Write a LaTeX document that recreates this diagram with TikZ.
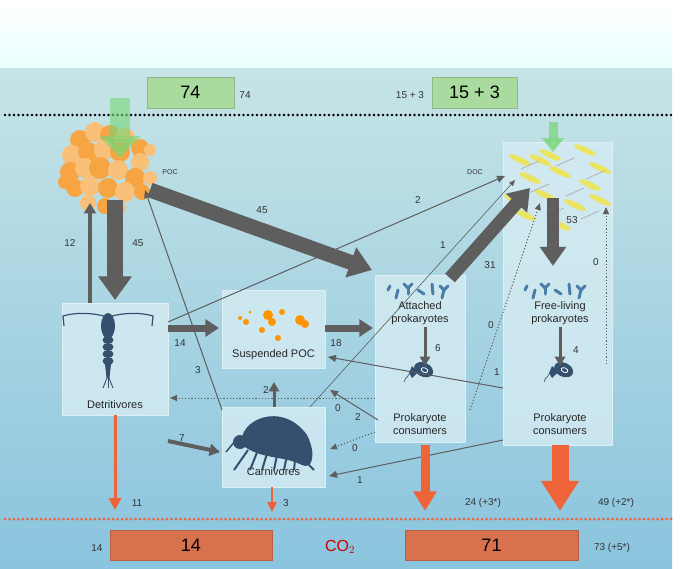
\documentclass[tikz,border=0pt]{standalone}
\usepackage{fontspec}
\setmainfont{Liberation Sans}
\usetikzlibrary{arrows.meta,shapes.geometric}
\definecolor{ag}{HTML}{5E5E5E}
\definecolor{ao}{HTML}{EE6338}
\definecolor{pan}{HTML}{D6ECF3}
\definecolor{gb}{HTML}{A9DA9E}
\definecolor{ob}{HTML}{D7714E}
\definecolor{bac}{HTML}{4A7EA8}
\definecolor{ani}{HTML}{34506E}
\definecolor{pocc}{HTML}{F7A443}
\definecolor{pocl}{HTML}{F9C07A}
\tikzset{
 panel/.style={fill=pan,draw=pan!80!white,line width=0.6pt,fill opacity=0.8},
 lbl/.style={font=\fontsize{10}{11}\selectfont,text=black!80},
 txt/.style={font=\fontsize{11}{13}\selectfont,text=black!85,align=center},
 ga/.style={draw=ag,line width=#1,-{Triangle[length=1.1*#1+6pt,width=1.7*#1+5pt]}},
 thin/.style={draw=ag,line width=1pt,-{Triangle[length=8pt,width=7pt]}},
 dot/.style={draw=ag,line width=1pt,dash pattern=on 1.2pt off 2pt,-{Triangle[length=7pt,width=6pt]}},
 oa/.style={draw=ao,line width=#1,-{Triangle[length=1.3*#1+8pt,width=1.7*#1+7pt]}},
}
\begin{document}
\begin{tikzpicture}[x=1pt,y=-1pt]
\useasboundingbox (0,0) rectangle (685,568);
% background
\fill[white] (0,0) rectangle (685,568);
\shade[top color=white,bottom color=cyan!8!white] (0,0) rectangle (672,68);
\shade[top color={rgb,255:red,198;green,228;blue,230},bottom color={rgb,255:red,138;green,196;blue,222}] (0,68) rectangle (672,568);
\foreach \i in {0,...,148} \fill[black] (5+4.5*\i,115) circle (1.4);
\foreach \i in {0,...,148} \fill[ao] (5+4.5*\i,519) circle (1.5);
% panels
\node[panel,minimum width=109pt,minimum height=303pt] (fl) at (557.5,293.5) {};
\node[panel,minimum width=90pt,minimum height=167pt] (at) at (420,358.5) {};
\node[panel,minimum width=106pt,minimum height=112pt] (det) at (115,359) {};
\node[panel,minimum width=103pt,minimum height=78pt] (sp) at (273.5,329) {};
\node[panel,minimum width=103pt,minimum height=80pt] (car) at (273.5,447) {};
% POC blob
\foreach \x/\y/\r [count=\k] in {80/140/10,95/132/10,110/135/10,125/138/10,140/148/9,72/155/10,88/152/10,104/150/10,120/152/10,140/162/9,70/172/10,85/168/10,100/168/11,118/170/10,135/178/10,150/178/7,75/188/9,90/186/10,108/188/10,125/192/10,142/192/8,88/203/8,105/206/8,120/208/6,65/182/7,150/150/6}
 {\pgfmathparse{mod(\k,2)==0?1:0}\ifnum\pgfmathresult=1 \fill[pocl] (\x,\y) circle (\r);\else\fill[pocc] (\x,\y) circle (\r);\fi}
\node[lbl,font=\fontsize{7}{8}\selectfont] (poclbl) at (170,172) {POC};
\node[lbl,font=\fontsize{7}{8}\selectfont] (doclbl) at (475,172) {DOC};
% DOC streaks
\begin{scope}[fill=yellow!85!orange,fill opacity=0.6]
\foreach \x/\y in {520/160,550/155,585/150,600/168,530/178,560/172,590/185,515/200,545/195,575/205,525/215,560/225,600/200,540/160}
 \fill[rotate around={-25:(\x,\y)}] (\x,\y) ellipse (12 and 3);
\end{scope}
\begin{scope}[draw=gray!60,line width=0.8pt]
\foreach \x/\y in {530/165,565/162,595/175,540/188,575/192,520/208,555/212,590/215}
 \draw (\x-9,\y+4) -- (\x+9,\y-4);
\end{scope}
% green boxes
\node[fill=gb,draw=gb!80!black!90,minimum width=87pt,minimum height=31pt,font=\fontsize{18}{20}\selectfont] (in1) at (190.5,92.5) {74};
\node[lbl] (in1l) at (245,95) {74};
\node[fill=gb,draw=gb!80!black!90,minimum width=85pt,minimum height=31pt,font=\fontsize{18}{20}\selectfont] (in2) at (474.5,92.5) {15 + 3};
\node[lbl] (in2l) at (410,95) {15 + 3};
\coordinate (g1a) at (120,98); \coordinate (g1b) at (120,158);
\coordinate (g2a) at (553,122); \coordinate (g2b) at (553,152);
\draw[green!55!gray!70,line width=20pt,opacity=0.6,-{Triangle[length=22pt,width=40pt]}] (g1a) -- (g1b);
\draw[green!55!gray!70,line width=9pt,opacity=0.7,-{Triangle[length=14pt,width=22pt]}] (g2a) -- (g2b);
% orange boxes
\node[fill=ob,draw=ob!85!black,minimum width=162pt,minimum height=30pt,font=\fontsize{18}{20}\selectfont] (o1) at (191,545) {14};
\node[fill=ob,draw=ob!85!black,minimum width=173pt,minimum height=30pt,font=\fontsize{18}{20}\selectfont] (o2) at (491.5,545) {71};
\node[lbl] (o1l) at (97,548) {14};
\node[lbl] (o2l) at (612,548) {73 (+5*)};
\node[text=red!80!black,font=\fontsize{16}{17}\selectfont] (co2) at (340,547) {CO$_2$};
% texts
\node[txt] (dett) at (115,405) {Detritivores};
\node[txt] (spt) at (273.5,355) {Suspended POC};
\node[txt] (cart) at (273.5,472) {Carnivores};
\node[txt] (att) at (420,313) {Attached\\prokaryotes};
\node[txt] (atc) at (420,424) {Prokaryote\\consumers};
\node[txt] (flt) at (560,313) {Free-living\\prokaryotes};
\node[txt] (flc) at (560,424) {Prokaryote\\consumers};
% suspended POC flecks
\begin{scope}[fill=orange!85!yellow]
\foreach \x/\y/\r in {240/318/2,246/322/3,268/315/5,272/322/4,282/312/3,262/330/3,300/320/5,305/324/4,278/338/3,250/312/1.5}
 \fill (\x,\y) circle (\r);
\end{scope}
% bacteria icons
\foreach \cx in {420,557}{
 \begin{scope}[shift={(\cx,292)},bac,line width=3pt,line cap=round]
  \draw (-32,-2)--(-30,-6); \draw (-24,6)--(-22,-2); \draw (-16,-8)--(-12,-4)--(-8,-8); \draw (-12,-4)--(-12,2);
  \draw (-2,-2)--(4,2); \draw (12,-8)--(13,2); \draw (20,-6)--(24,-2)--(28,-6); \draw (24,-2)--(22,6);
 \end{scope}}
% consumer icons
\foreach \cx in {420,560}{
 \begin{scope}[shift={(\cx,368)}]
  \fill[ani,rotate=-25] (4,0) ellipse (10 and 7);
  \draw[white,line width=0.8pt,rotate=-25] (5,0) ellipse (3.5 and 2.2);
  \fill[ani] (-8,-2) -- (-2,4) -- (-8,10) -- (-11,5) -- cycle;
  \draw[ani,line width=0.6pt] (-11,6) .. controls (-14,12) and (-16,10) .. (-16,14);
 \end{scope}}
% copepod
\begin{scope}[shift={(108,322)},ani]
 \fill (0,4) ellipse (7 and 13);
 \foreach \yy in {18,25,32,39} \fill (0,\yy) ellipse (5.5 and 4);
 \fill (-3,42) -- (3,42) -- (1.5,56) -- (-1.5,56) -- cycle;
 \draw[line width=1.2pt] (-4,-6) .. controls (-20,-10) and (-35,-9) .. (-45,-6) -- (-44,4);
 \draw[line width=1.2pt] (4,-6) .. controls (20,-10) and (35,-9) .. (45,-6) -- (44,4);
 \draw[line width=0.9pt] (-1,56) -- (-5,66); \draw[line width=0.9pt] (1,56) -- (5,66); \draw[line width=0.9pt] (0,56) -- (0,66);
\end{scope}
% amphipod
\begin{scope}[shift={(272,440)},ani]
 \fill (-30,5) .. controls (-35,-20) and (10,-40) .. (35,-5) .. controls (45,15) and (40,30) .. (30,25) .. controls (10,15) and (-10,20) .. (-30,5) -- cycle;
 \fill (-32,2) circle (7);
 \foreach \a/\b in {-24/-38,-14/-22,-4/-10,6/2,16/12,24/22}{\draw[line width=2pt] (\a,10) -- (\b,30);}
 \draw[line width=1.5pt] (-36,0) -- (-46,12);
 \draw[line width=2pt] (32,20) -- (42,30);
\end{scope}
% gray arrows
\draw[ga=16pt] (115,200) -- (115,300);
\node[lbl] (l45a) at (138,243) {45};
\draw[ga=4pt] (90,303) -- (90,203);
\node[lbl] (l12) at (70,243) {12};
\draw[ga=15pt] (150,190) -- (372,270);
\node[lbl] (l45b) at (262,210) {45};
\draw[thin] (168,322) -- (505,176);
\node[lbl] (l2a) at (418,200) {2};
\draw[thin] (222,410) -- (145,190);
\node[lbl] (l3a) at (198,370) {3};
\draw[ga=7pt] (168,328) -- (219,328);
\node[lbl] (l14) at (180,343) {14};
\draw[ga=7pt] (325,328) -- (373,328);
\node[lbl] (l18) at (336,343) {18};
\draw[ga=13pt] (450,278) -- (530,188);
\node[lbl] (l31) at (490,265) {31};
\draw[draw=ag,line width=0.6pt,-{Triangle[length=6pt,width=5pt]}] (310,407) -- (515,180);
\node[lbl] (l1a) at (443,245) {1};
\draw[dot] (470,410) -- (540,203);
\node[lbl] (l0a) at (491,325) {0};
\draw[dot] (606,364) -- (606,207);
\node[lbl] (l0b) at (596,262) {0};
\draw[ga=12pt] (553,198) -- (553,266);
\node[lbl] (l53) at (572,220) {53};
\draw[ga=3pt] (425,327) -- (425,366);
\node[lbl] (l6) at (438,348) {6};
\draw[ga=3pt] (560,327) -- (560,366);
\node[lbl] (l4) at (576,350) {4};
\draw[thin] (503,388) -- (328,357);
\node[lbl] (l1b) at (497,372) {1};
\draw[thin] (378,420) -- (330,390);
\node[lbl] (l2b) at (358,417) {2};
\draw[ga=3pt] (274,407) -- (274,382);
\node[lbl] (l2c) at (266,390) {2};
\draw[dot] (375,398) -- (170,398);
\node[lbl] (l0c) at (338,408) {0};
\draw[dot] (375,432) -- (330,449);
\node[lbl] (l0d) at (355,448) {0};
\draw[thin] (503,440) -- (329,476);
\node[lbl] (l1c) at (360,480) {1};
\draw[ga=4pt] (168,441) -- (220,452);
\node[lbl] (l7) at (182,438) {7};
% orange arrows
\draw[oa=3pt] (115,415) -- (115,510);
\node[lbl] (l11) at (137,503) {11};
\draw[oa=1.5pt] (272,487) -- (272,512);
\node[lbl] (l3b) at (286,503) {3};
\draw[oa=9pt] (425,445) -- (425,511);
\node[lbl] (l24) at (483,503) {24 (+3*)};
\draw[oa=17pt] (560,445) -- (560,511);
\node[lbl] (l49) at (616,503) {49 (+2*)};
\end{tikzpicture}
\end{document}
